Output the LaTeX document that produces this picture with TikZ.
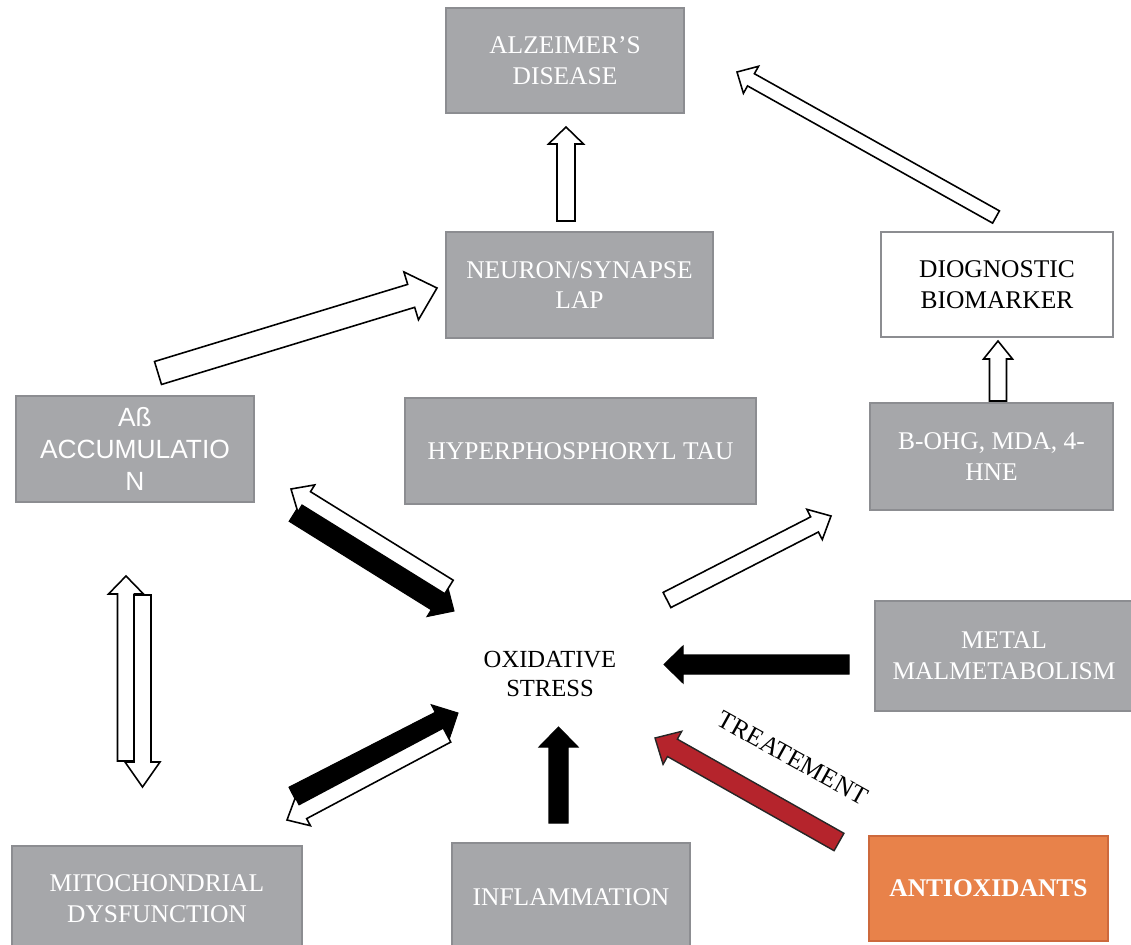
\documentclass[tikz,border=0pt]{standalone}
\usepackage{fontspec}
\setmainfont{Liberation Serif}
\setsansfont{Liberation Sans}
\usetikzlibrary{calc}
\definecolor{boxgray}{RGB}{166,167,170}
\definecolor{boxline}{RGB}{140,141,145}
\definecolor{antiorange}{RGB}{232,130,74}
\definecolor{antiline}{RGB}{205,105,60}
\definecolor{treatred}{RGB}{181,36,44}
\tikzset{
  graybox/.style={draw=boxline, fill=boxgray, line width=1pt, text=white, align=center,
    inner sep=0pt, font=\fontsize{14.5}{17.5}\selectfont},
  hollowarrow/.style={draw=black, fill=white, line width=0.9pt, line join=miter},
  blackarrow/.style={draw=black, fill=black, line width=0.6pt, line join=miter},
  redarrow/.style={draw=black!85, fill=treatred, line width=0.8pt, line join=miter}
}
% block arrow: [style]{tail}{tip}{half shaft}{half head}{head length}
\newcommand{\blockarrow}[6][]{%
  \path (#2) coordinate (bt) (#3) coordinate (bp) ($(bp)!#6!(bt)$) coordinate (bh);
  \draw[#1] ($(bt)!#4!90:(bp)$) -- ($(bh)!#4!90:(bp)$) -- ($(bh)!#5!90:(bp)$) -- (bp)
    -- ($(bh)!#5!-90:(bp)$) -- ($(bh)!#4!-90:(bp)$) -- ($(bt)!#4!-90:(bp)$) -- cycle;}

\begin{document}
\begin{tikzpicture}[x=0.02cm,y=-0.02cm]
\useasboundingbox (0,0) rectangle (1131,945);

% boxes
\node[graybox, minimum width=4.76cm, minimum height=2.10cm] (alz) at (565,60.5) {ALZEIMER'S\\DISEASE};
\node[graybox, minimum width=5.34cm, minimum height=2.12cm] (neuron) at (579.5,285) {NEURON/SYNAPSE\\LAP};
\node[graybox, fill=white, text=black, minimum width=4.64cm, minimum height=2.10cm] (diag) at (997,284.5) {DIOGNOSTIC\\BIOMARKER};
\node[graybox, minimum width=4.76cm, minimum height=2.12cm, font=\sffamily\fontsize{15}{18}\selectfont] (abeta) at (135,449) {Aß\\ACCUMULATIO\\N};
\node[graybox, minimum width=7.02cm, minimum height=2.12cm] (tau) at (580.5,451) {HYPERPHOSPHORYL TAU};
\node[graybox, minimum width=4.86cm, minimum height=2.14cm] (bohg) at (991.5,456.5) {B-OHG, MDA, 4-\\HNE};
\node[graybox, minimum width=5.16cm, minimum height=2.20cm] (metal) at (1004,656) {METAL\\MALMETABOLISM};
\node[graybox, minimum width=5.80cm, minimum height=2.12cm] (mito) at (157,899) {MITOCHONDRIAL\\DYSFUNCTION};
\node[graybox, minimum width=4.76cm, minimum height=2.16cm] (inflam) at (571,897) {INFLAMMATION};
\node[graybox, draw=antiline, fill=antiorange, minimum width=4.78cm, minimum height=2.10cm,
  font=\bfseries\fontsize{14.5}{17.5}\selectfont] (antiox) at (988.5,888.5) {ANTIOXIDANTS};
\node[align=center, font=\fontsize{14}{17}\selectfont] (ox) at (550,674) {OXIDATIVE\\STRESS};
\node[rotate=-29, font=\fontsize{14.5}{17}\selectfont] (treat) at (793,758) {TREATEMENT};

% arrow ends
\coordinate (nTop) at (566,221);      \coordinate (aBot) at (566,127);
\coordinate (dTop) at (996,217);      \coordinate (aRight) at (737,72);
\coordinate (abTop) at (158,373);     \coordinate (nLeft) at (437,288);
\coordinate (bTop) at (998,401);      \coordinate (dBot) at (998,341);
\coordinate (abOut) at (295,512);     \coordinate (oxIn) at (454,611);
\coordinate (oxOut) at (449,587);     \coordinate (abIn) at (291,489);
\coordinate (mUp) at (126,761);       \coordinate (abBot) at (126,576);
\coordinate (abDown) at (142.5,595);  \coordinate (mTop) at (142.5,787);
\coordinate (mOut) at (294,797);      \coordinate (oxInM) at (458,713);
\coordinate (oxOutM) at (447,735);    \coordinate (mIn) at (287,820);
\coordinate (iTop) at (558.5,823);    \coordinate (oxBot) at (558.5,727);
\coordinate (metLeft) at (849,664.5); \coordinate (oxRight) at (664,664.5);
\coordinate (antiTop) at (839,842);   \coordinate (oxRightB) at (655,738);
\coordinate (oxOutB) at (667,600);    \coordinate (bLeft) at (831,516);

% arrows
\blockarrow[hollowarrow]{nTop}{aBot}{1.8mm}{3.5mm}{3.4mm}
\blockarrow[hollowarrow]{dTop}{aRight}{1.4mm}{3.1mm}{3.2mm}
\blockarrow[hollowarrow]{abTop}{nLeft}{2.4mm}{5mm}{5.4mm}
\blockarrow[hollowarrow]{bTop}{dBot}{1.7mm}{2.9mm}{3.6mm}
\blockarrow[blackarrow]{abOut}{oxIn}{2.2mm}{3.8mm}{4mm}
\blockarrow[hollowarrow]{oxOut}{abIn}{1.6mm}{3.2mm}{3.6mm}
\blockarrow[hollowarrow]{mUp}{abBot}{1.7mm}{3.5mm}{3.6mm}
\blockarrow[hollowarrow]{abDown}{mTop}{1.7mm}{3.5mm}{5mm}
\blockarrow[blackarrow]{mOut}{oxInM}{2.2mm}{3.9mm}{4mm}
\blockarrow[hollowarrow]{oxOutM}{mIn}{1.6mm}{3.2mm}{3.6mm}
\blockarrow[blackarrow]{iTop}{oxBot}{1.9mm}{3.9mm}{4mm}
\blockarrow[blackarrow]{metLeft}{oxRight}{1.9mm}{3.7mm}{3.8mm}
\blockarrow[redarrow]{antiTop}{oxRightB}{2mm}{3.8mm}{4mm}
\blockarrow[hollowarrow]{oxOutB}{bLeft}{1.7mm}{3.4mm}{3.7mm}
\end{tikzpicture}
\end{document}
